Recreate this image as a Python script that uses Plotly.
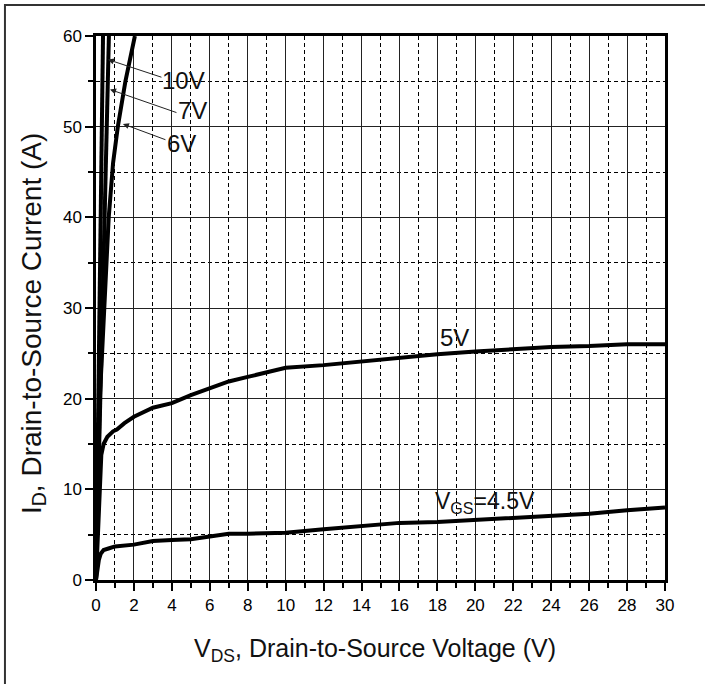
import plotly.graph_objects as go

# ---- data ----
v_10 = [0, 0.1, 0.2, 0.3, 0.37]
i_10 = [0, 16, 32, 48, 60]

v_7 = [0, 0.15, 0.3, 0.45, 0.6, 0.68]
i_7 = [0, 14, 28, 41, 53, 60]

v_6 = [0, 0.1, 0.2, 0.32, 0.42, 0.53, 0.67, 0.9, 1.15, 1.55, 2.05]
i_6 = [0, 10, 20, 25, 30, 35, 40, 46, 50, 55, 60]

v_5 = [0, 0.1, 0.2, 0.28, 0.4, 0.6, 0.9, 1.1, 1.5, 2, 3, 4, 5, 6, 7, 8, 9, 10,
       12, 14, 15, 16, 18, 20, 22, 24, 26, 28, 30]
i_5 = [0, 5.5, 11, 13.8, 15, 15.8, 16.4, 16.6, 17.3, 18, 19, 19.5, 20.4, 21.2,
       21.9, 22.4, 22.9, 23.4, 23.7, 24.1, 24.3, 24.6, 24.9, 25.2, 25.5, 25.7,
       25.8, 26.0, 26.0]

v_45 = [0, 0.08, 0.15, 0.25, 0.4, 0.7, 1, 2, 3, 4, 5, 6, 7, 8, 10, 12, 14, 16,
        18, 20, 22, 24, 26, 28, 30]
i_45 = [0, 1.2, 2.2, 2.9, 3.3, 3.5, 3.7, 3.9, 4.3, 4.4, 4.5, 4.8, 5.1, 5.1,
        5.2, 5.6, 6.0, 6.3, 6.4, 6.6, 6.8, 7.0, 7.3, 7.7, 8.0]

x_ticks = list(range(0, 31, 2))
y_ticks = list(range(0, 61, 10))

FONT = "Liberation Sans, Arial, sans-serif"

fig = go.Figure()
for vx, iy in [(v_45, i_45), (v_5, i_5), (v_6, i_6), (v_7, i_7), (v_10, i_10)]:
    fig.add_trace(go.Scatter(x=vx, y=iy, mode="lines",
                             line=dict(color="black", width=4),
                             showlegend=False, hoverinfo="skip"))

axis_common = dict(
    showline=True, mirror=True, linecolor="black", linewidth=2.5,
    showgrid=True, gridcolor="#222", gridwidth=1,
    ticks="outside", ticklen=8, tickwidth=2, tickcolor="black",
    zeroline=False,
    tickfont=dict(family=FONT, size=17, color="black"),
)

fig.update_xaxes(range=[0, 30], tickvals=x_ticks,
                 minor=dict(dtick=1, tick0=0, showgrid=True, gridcolor="black",
                            griddash="4px,3px", gridwidth=1, ticks="outside",
                            ticklen=5, tickwidth=2, tickcolor="black"),
                 **axis_common)
fig.update_yaxes(range=[0, 60], tickvals=y_ticks,
                 minor=dict(dtick=5, tick0=0, showgrid=True, gridcolor="black",
                            griddash="4px,3px", gridwidth=1, ticks="outside",
                            ticklen=5, tickwidth=2, tickcolor="black"),
                 **axis_common)

label_font = dict(family=FONT, size=24, color="#111")
annotations = [
    dict(x=4.6, y=55.1, text="10V"),
    dict(x=5.1, y=51.8, text="7V"),
    dict(x=4.5, y=48.1, text="6V"),
    dict(x=18.9, y=26.7, text="5V"),
]
for a in annotations:
    fig.add_annotation(x=a["x"], y=a["y"], text=a["text"], showarrow=False,
                       xref="x", yref="y", font=label_font,
                       xanchor="center", yanchor="middle")

fig.add_annotation(x=20.5, y=8.5, xref="x", yref="y", showarrow=False,
                   text="V<sub>GS</sub>=4.5V", font=dict(family=FONT, size=23, color="#111"),
                   xanchor="center", yanchor="middle")

# arrows: (tail_x, tail_y) -> (tip_x, tip_y)
arrows = [
    (3.53, 55.4, 0.63, 57.4),
    (4.32, 51.5, 0.74, 54.1),
    (3.74, 48.5, 1.42, 50.3),
]
for tx, ty, hx, hy in arrows:
    fig.add_annotation(x=hx, y=hy, ax=tx, ay=ty, xref="x", yref="y",
                       axref="x", ayref="y", text="", showarrow=True,
                       arrowhead=2, arrowsize=1.2, arrowwidth=1, arrowcolor="#222")

fig.add_annotation(x=-0.111, y=0.472, xref="paper", yref="paper", showarrow=False,
                   text="I<sub>D</sub>, Drain-to-Source Current (A)", textangle=-90,
                   font=dict(family=FONT, size=28, color="#111"),
                   xanchor="center", yanchor="middle")
fig.add_annotation(x=0.4903, y=-0.128, xref="paper", yref="paper", showarrow=False,
                   text="V<sub>DS</sub>, Drain-to-Source Voltage (V)",
                   font=dict(family=FONT, size=25, color="#111"),
                   xanchor="center", yanchor="middle")

# outer frame around the whole figure
fig.add_shape(type="rect", xref="paper", yref="paper",
              x0=-0.160, x1=1.10, y0=-0.25, y1=1.057,
              line=dict(color="#333", width=2), layer="below")

fig.update_layout(
    width=705, height=684,
    margin=dict(l=96, r=40, t=36, b=104),
    paper_bgcolor="white", plot_bgcolor="white",
    font=dict(family=FONT, color="black"),
)

fig.write_html("out.html", config={"displayModeBar": False},
               post_script="document.body.style.margin='0';document.body.style.padding='0';")
